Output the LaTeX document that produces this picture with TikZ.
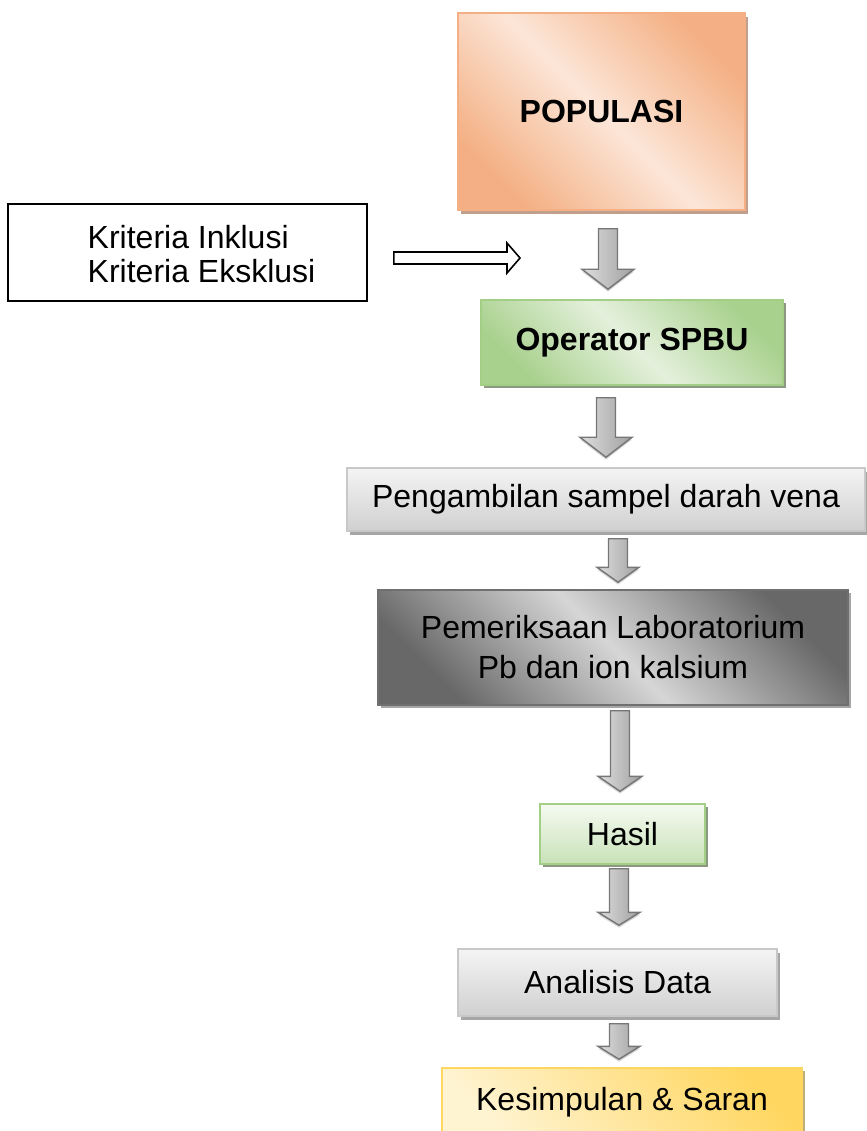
\documentclass[tikz,border=0pt]{standalone}
\usepackage{fontspec}
\setmainfont{Liberation Sans}
\usetikzlibrary{calc, positioning, shadows}

\definecolor{PopDark}{RGB}{244,176,132}
\definecolor{PopLight}{RGB}{252,230,216}
\definecolor{PopShade}{RGB}{192,160,140}
\definecolor{OpDark}{RGB}{169,209,142}
\definecolor{OpLight}{RGB}{228,240,220}
\definecolor{GreenLine}{RGB}{163,206,134}
\definecolor{GreenShade}{RGB}{140,152,130}
\definecolor{HasLight}{RGB}{245,250,241}
\definecolor{HasDark}{RGB}{200,226,184}
\definecolor{GrayTop}{RGB}{244,244,244}
\definecolor{GrayBottom}{RGB}{208,208,208}
\definecolor{GrayLine}{RGB}{200,200,200}
\definecolor{GrayShade}{RGB}{166,166,166}
\definecolor{LabDark}{RGB}{104,104,104}
\definecolor{LabLight}{RGB}{214,214,214}
\definecolor{LabLine}{RGB}{112,112,112}
\definecolor{KesLight}{RGB}{255,244,210}
\definecolor{KesDark}{RGB}{255,214,96}
\definecolor{KesShade}{RGB}{190,175,120}
\definecolor{ArrowLight}{RGB}{222,222,222}
\definecolor{ArrowDark}{RGB}{160,160,160}
\definecolor{ArrowLine}{RGB}{118,118,118}

\begin{document}
\begin{tikzpicture}[x=0.375pt, y=-0.375pt, font=\fontsize{12}{14}\selectfont,
	box/.style={draw, line width=0.55pt, inner sep=0pt},
	popbox/.style={box, draw=PopDark, top color=PopDark, bottom color=PopDark, middle color=PopLight, shading angle=-45,
		drop shadow={shadow xshift=1.1pt, shadow yshift=-1.6pt, fill=PopShade, opacity=1}},
	opbox/.style={box, draw=GreenLine, top color=OpDark, bottom color=OpDark, middle color=OpLight, shading angle=-45,
		drop shadow={shadow xshift=1.1pt, shadow yshift=-1.3pt, fill=GreenShade, opacity=1}},
	hasbox/.style={box, draw=GreenLine, top color=HasLight, bottom color=HasDark,
		drop shadow={shadow xshift=1.1pt, shadow yshift=-1.1pt, fill=GreenShade, opacity=1}},
	graybox/.style={box, draw=GrayLine, top color=GrayTop, bottom color=GrayBottom,
		drop shadow={shadow xshift=1.3pt, shadow yshift=-1.5pt, fill=GrayShade, opacity=1}},
	labbox/.style={box, draw=LabLine, top color=LabDark, bottom color=LabDark, middle color=LabLight, shading angle=-45,
		drop shadow={shadow xshift=1.1pt, shadow yshift=-1.3pt, fill=GrayShade, opacity=1}},
	kesbox/.style={box, draw=KesDark, top color=KesDark, bottom color=KesLight, shading angle=-45,
		drop shadow={shadow xshift=1.1pt, shadow yshift=-1.3pt, fill=KesShade, opacity=1}},
	kritbox/.style={box, draw=black, line width=0.6pt},
	garrow/.style 2 args={draw=ArrowLine, line width=0.55pt, left color=ArrowLight, right color=ArrowDark,
		drop shadow={shadow xshift=0pt, shadow yshift=-0.9pt, fill=black!25, opacity=.6},
		to path={($(\tikztostart)+(-9.5,0)$) -- ($(\tikztostart |- \tikztotarget)+(-9.5,-#2)$)
			-- ($(\tikztostart |- \tikztotarget)+(-#1,-#2)$) -- (\tikztostart |- \tikztotarget)
			-- ($(\tikztostart |- \tikztotarget)+(#1,-#2)$) -- ($(\tikztostart |- \tikztotarget)+(9.5,-#2)$)
			-- ($(\tikztostart)+(9.5,0)$) -- cycle}},
	harrow/.style={draw=black, line width=0.6pt, fill=white,
		to path={($(\tikztostart)+(0,-6)$) -- ($(\tikztostart -| \tikztotarget)+(-13,-6)$)
			-- ($(\tikztostart -| \tikztotarget)+(-13,-15)$) -- (\tikztostart -| \tikztotarget)
			-- ($(\tikztostart -| \tikztotarget)+(-13,15)$) -- ($(\tikztostart -| \tikztotarget)+(-13,6)$)
			-- ($(\tikztostart)+(0,6)$) -- cycle}}]
	\useasboundingbox (0,0) rectangle (866,1131);

	\node[popbox, minimum width=107.63pt, minimum height=73.88pt] (pop) at (601.5,111.5) {\bfseries POPULASI};
	\node[kritbox, minimum width=134.63pt, minimum height=36.38pt] (krit) at (187.5,252.5) {};
	\node[align=left, anchor=west, inner sep=0pt, font=\fontsize{12}{12.75}\selectfont] (kritlbl)
		at ($(krit.west)+(80,2)$) {Kriteria Inklusi\\Kriteria Eksklusi};
	\node[opbox, minimum width=113.25pt, minimum height=31.88pt] (op) at (632,342.5) {\bfseries Operator SPBU};
	\node[graybox, minimum width=194.25pt, minimum height=23.63pt] (amb) at (606,499.5) {Pengambilan sampel darah vena};
	\node[labbox, minimum width=176.25pt, minimum height=43.13pt, align=center, font=\fontsize{12}{15}\selectfont]
		(lab) at (613,647.5) {Pemeriksaan Laboratorium\\Pb dan ion kalsium};
	\node[hasbox, minimum width=61.88pt, minimum height=22.5pt] (has) at (622.5,834) {Hasil};
	\node[graybox, minimum width=119.63pt, minimum height=25.13pt] (ana) at (617.5,982.5) {Analisis Data};
	\node[kesbox, minimum width=135pt, minimum height=25.5pt] (kes) at (622,1102) {Kesimpulan \& Saran};

	% arrow ends
	\coordinate (kin) at ($(krit.east)+(26,5.5)$);
	\coordinate (kout) at (520,258);
	\coordinate (a1s) at ($(pop.south)+(6.5,18)$);
	\coordinate (a1e) at ($(op.north)+(0,-10)$);
	\coordinate (a2s) at ($(op.south)+(-26,12)$);
	\coordinate (a2e) at ($(amb.north)+(0,-10)$);
	\coordinate (a3s) at ($(amb.south)+(12,7)$);
	\coordinate (a3e) at ($(lab.north)+(0,-7)$);
	\coordinate (a4s) at ($(lab.south)+(7,5)$);
	\coordinate (a4e) at ($(has.north)+(0,-12)$);
	\coordinate (a5s) at ($(has.south)+(-3.5,4)$);
	\coordinate (a5e) at ($(ana.north)+(0,-23)$);
	\coordinate (a6s) at ($(ana.south)+(1.5,7)$);
	\coordinate (a6e) at ($(kes.north)+(0,-8)$);

	\draw[harrow] (kin) to (kout);
	\draw[garrow={26}{20}] (a1s) to (a1e);
	\draw[garrow={26}{20}] (a2s) to (a2e);
	\draw[garrow={21}{15}] (a3s) to (a3e);
	\draw[garrow={22}{15}] (a4s) to (a4e);
	\draw[garrow={21}{13}] (a5s) to (a5e);
	\draw[garrow={21}{13}] (a6s) to (a6e);
\end{tikzpicture}
\end{document}
